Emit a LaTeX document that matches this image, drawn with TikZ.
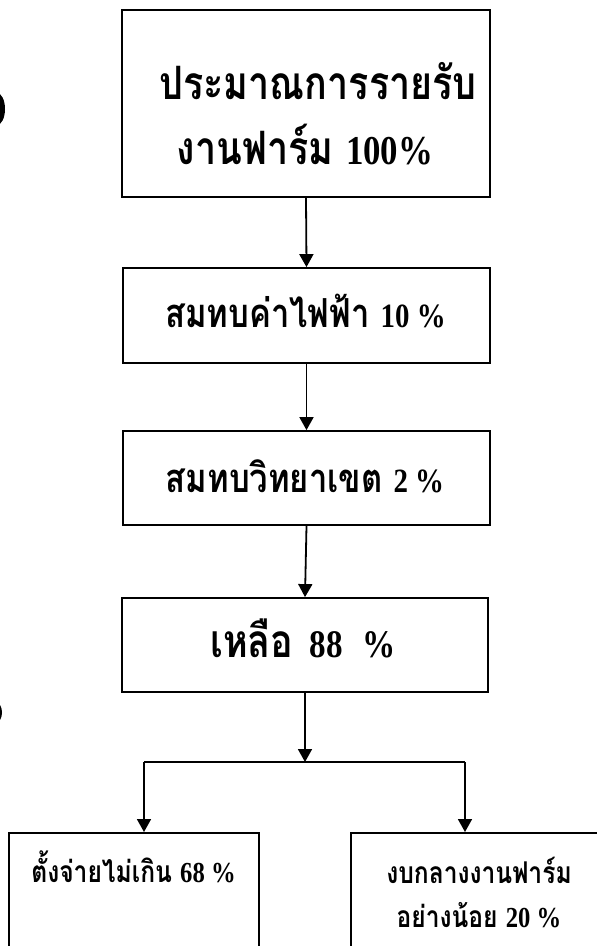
\documentclass[tikz,border=0pt]{standalone}
\usepackage{fontspec}
\setmainfont{Liberation Serif}
\newfontfamily\thaifont[Script=Thai,FakeStretch=0.82]{Loma}
\newfontfamily\numfont[FakeStretch=0.85]{Liberation Serif}
\usetikzlibrary{arrows.meta}
\newcommand{\numtxt}[2]{{\numfont\bfseries\fontsize{#1}{#1}\selectfont #2}}
\tikzset{
  boxnode/.style={draw=black, line width=1.8pt, rectangle, inner sep=0pt},
  txt/.style={inner sep=0pt, anchor=base},
  conn/.style={line width=1.8pt},
  arr/.style={line width=1.8pt, -{Triangle[width=14pt,length=13pt]}},
  hole/.style={fill=black, draw=none}
}
\begin{document}
\begin{tikzpicture}[x=1pt,y=-1pt]
\useasboundingbox (0,0) rectangle (597,946);
\clip (0,0) rectangle (597,946);
\fill[white] (0,0) rectangle (597,946);
% boxes
\node[boxnode, minimum width=368pt, minimum height=187pt] (b1) at (306,103.5) {};
\node[boxnode, minimum width=367pt, minimum height=95pt] (b2) at (306.5,315.5) {};
\node[boxnode, minimum width=367pt, minimum height=94pt] (b3) at (306.5,478) {};
\node[boxnode, minimum width=366pt, minimum height=94pt] (b4) at (305,645) {};
\node[boxnode, minimum width=250pt, minimum height=160pt, anchor=north west] (b5) at (8,832) {};
\node[boxnode, minimum width=270pt, minimum height=160pt, anchor=north west] (b6) at (350,832) {};
% texts
\node[txt, font=\thaifont\bfseries\fontsize{46}{50}\selectfont] (t1a) at (318,99) {ประมาณการรายรับ};
\node[txt, font=\thaifont\bfseries\fontsize{46}{50}\selectfont] (t1b) at (305,164) {งานฟาร์ม \numtxt{41}{100\%}};
\node[txt, font=\thaifont\bfseries\fontsize{40}{44}\selectfont] (t2) at (305.5,327) {สมทบค่าไฟฟ้า \numtxt{34}{10 \%}};
\node[txt, font=\thaifont\bfseries\fontsize{40}{44}\selectfont] (t3) at (305,492) {สมทบวิทยาเขต \numtxt{34}{2 \%}};
\node[txt, font=\thaifont\bfseries\fontsize{46}{50}\selectfont] (t4) at (303,657) {เหลือ\hspace*{16pt}\numtxt{39}{88\hspace*{20pt}\%}};
\node[txt, font=\thaifont\bfseries\fontsize{30}{34}\selectfont] (t5) at (133.5,882) {ตั้งจ่ายไม่เกิน \numtxt{29}{68 \%}};
\node[txt, font=\thaifont\bfseries\fontsize{30}{34}\selectfont] (t6a) at (479,883) {งบกลางงานฟาร์ม};
\node[txt, font=\thaifont\bfseries\fontsize{30}{34}\selectfont] (t6b) at (479,927) {อย่างน้อย \numtxt{29}{20 \%}};
% connectors
\draw[arr] (b1.south) -- (b2.north);
\draw[arr] (b2.south) -- (b3.north);
\draw[arr] (b3.south) -- (b4.north);
\coordinate (split) at (305,762);
\coordinate (sl) at (144,762);
\coordinate (sr) at (465,762);
\draw[arr] (b4.south) -- (split);
\draw[conn] (sl) -- (sr);
\draw[arr] (sl) -- (sl |- b5.north);
\draw[arr] (sr) -- (sr |- b6.north);
% scan marks at left edge
\fill[hole] (-3,109) ellipse [x radius=8, y radius=16];
\fill[hole] (-4,712.5) ellipse [x radius=6, y radius=10];
\end{tikzpicture}
\end{document}
